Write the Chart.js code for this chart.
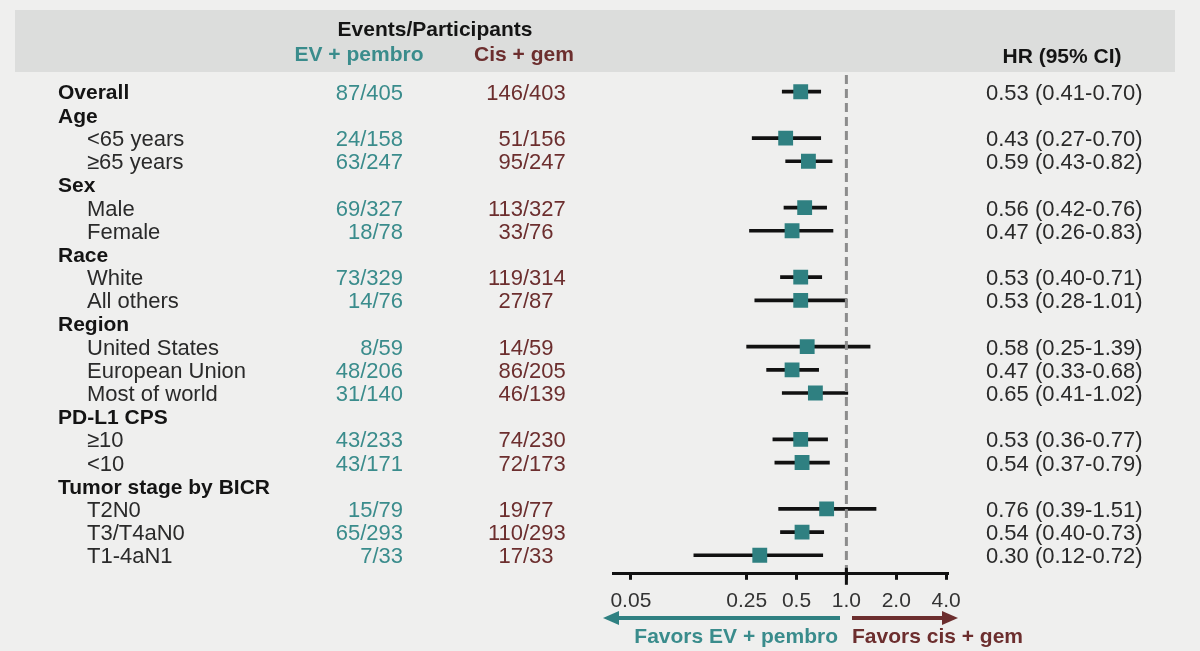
<!DOCTYPE html>
<html>
<head>
<meta charset="utf-8">
<script src="https://cdn.jsdelivr.net/npm/chart.js@4"></script>
<style>
html,body{margin:0;padding:0;background:#efefee;}
#wrap{width:1200px;height:651px;}
</style>
</head>
<body>
<div id="wrap"><canvas id="forest" width="1200" height="651"></canvas></div>
<script>
/* ── DATA ── */
var rowLabels=['Overall','Age','<65 years','\u226565 years','Sex','Male','Female','Race','White','All others','Region','United States','European Union','Most of world','PD-L1 CPS','\u226510','<10','Tumor stage by BICR','T2N0','T3/T4aN0','T1-4aN1'];
var rowBold=[1,1,0,0,1,0,0,1,0,0,1,0,0,0,1,0,0,1,0,0,0];
var evEvents=['87/405',null,'24/158','63/247',null,'69/327','18/78',null,'73/329','14/76',null,'8/59','48/206','31/140',null,'43/233','43/171',null,'15/79','65/293','7/33'];
var cisEvents=['146/403',null,'51/156','95/247',null,'113/327','33/76',null,'119/314','27/87',null,'14/59','86/205','46/139',null,'74/230','72/173',null,'19/77','110/293','17/33'];
var hr=[0.53,null,0.43,0.59,null,0.56,0.47,null,0.53,0.53,null,0.58,0.47,0.65,null,0.53,0.54,null,0.76,0.54,0.30];
var ciLo=[0.41,null,0.27,0.43,null,0.42,0.26,null,0.40,0.28,null,0.25,0.33,0.41,null,0.36,0.37,null,0.39,0.40,0.12];
var ciHi=[0.70,null,0.70,0.82,null,0.76,0.83,null,0.71,1.01,null,1.39,0.68,1.02,null,0.77,0.79,null,1.51,0.73,0.72];
var tickVals=[0.05,0.25,0.5,1,2,4];
var tickLabels=['0.05','0.25','0.5','1.0','2.0','4.0'];

var TEAL='#2f8081',TEAL_TXT='#3a8c8c',BROWN='#6c2e2e',INK='#141414',GREY_TXT='#2a2a2a';
var FONT='"Liberation Sans", Arial, sans-serif';

var ciData=[],hrData=[];
hr.forEach(function(v,i){
  if(v==null)return;
  ciData.push({x:[ciLo[i],ciHi[i]],y:i});
  hrData.push({x:v,y:i});
});

/* ── TEXT / DECOR PLUGIN ── */
var tablePlugin={
  id:'tablePlugin',
  beforeDraw:function(c){
    var ctx=c.ctx;
    ctx.save();
    ctx.fillStyle='#dcdddc';
    ctx.fillRect(15,10,1160,62);
    ctx.restore();
  },
  afterDraw:function(c){
    var ctx=c.ctx,xs=c.scales.x,ys=c.scales.y,ca=c.chartArea;
    ctx.save();
    // headers
    ctx.textBaseline='middle';ctx.textAlign='center';
    ctx.font='bold 21px '+FONT;
    ctx.fillStyle=INK;ctx.fillText('Events/Participants',435,30);
    ctx.fillStyle=TEAL_TXT;ctx.fillText('EV + pembro',359,55);
    ctx.fillStyle=BROWN;ctx.fillText('Cis + gem',524,55);
    ctx.fillStyle=INK;ctx.fillText('HR (95% CI)',1062,57);
    // rows
    rowLabels.forEach(function(l,i){
      var y=ys.getPixelForValue(i)+2;
      ctx.textAlign='left';
      if(rowBold[i]){ctx.font='bold 21px '+FONT;ctx.fillStyle=INK;ctx.fillText(l,58,y);}
      else{ctx.font='22px '+FONT;ctx.fillStyle=GREY_TXT;ctx.fillText(l,87,y);}
      ctx.font='22px '+FONT;
      if(evEvents[i]){ctx.fillStyle=TEAL_TXT;ctx.textAlign='right';ctx.fillText(evEvents[i],403,y);}
      if(cisEvents[i]){
        var p=cisEvents[i].split('/');
        ctx.fillStyle=BROWN;
        ctx.textAlign='right';ctx.fillText(p[0],523,y);
        ctx.textAlign='left';ctx.fillText('/'+p[1],523,y);
      }
      if(hr[i]!=null){
        ctx.fillStyle=GREY_TXT;ctx.textAlign='left';
        ctx.fillText(hr[i].toFixed(2)+' ('+ciLo[i].toFixed(2)+'-'+ciHi[i].toFixed(2)+')',986,y);
      }
    });
    // reference line at HR = 1
    var x1=xs.getPixelForValue(1);
    ctx.strokeStyle='#8c8c8c';ctx.lineWidth=3;ctx.setLineDash([9,5]);
    ctx.beginPath();ctx.moveTo(x1,ca.top+3);ctx.lineTo(x1,ca.bottom-2);ctx.stroke();
    ctx.setLineDash([]);
    ctx.strokeStyle='#111';ctx.lineWidth=3;
    ctx.beginPath();ctx.moveTo(x1,ca.bottom-6);ctx.lineTo(x1,ca.bottom+11);ctx.stroke();
    // arrows
    function arrow(xa,xb,y,col){
      var dir=xb>xa?1:-1;
      ctx.strokeStyle=col;ctx.fillStyle=col;ctx.lineWidth=4;
      ctx.beginPath();ctx.moveTo(xa,y);ctx.lineTo(xb-dir*12,y);ctx.stroke();
      ctx.beginPath();ctx.moveTo(xb,y);ctx.lineTo(xb-dir*16,y-7);ctx.lineTo(xb-dir*16,y+7);ctx.closePath();ctx.fill();
    }
    arrow(840,603,618,TEAL);
    arrow(852,958,618,BROWN);
    ctx.font='bold 21px '+FONT;ctx.textBaseline='middle';
    ctx.fillStyle=TEAL_TXT;ctx.textAlign='right';ctx.fillText('Favors EV + pembro',838,637);
    ctx.fillStyle=BROWN;ctx.textAlign='left';ctx.fillText('Favors cis + gem',852,637);
    ctx.restore();
  }
};

new Chart(document.getElementById('forest').getContext('2d'),{
  type:'bar',
  data:{
    datasets:[
      {type:'scatter',label:'HR',data:hrData,pointStyle:'rect',pointRadius:10.5,pointHoverRadius:10.5,backgroundColor:TEAL,borderColor:TEAL,borderWidth:0,order:0},
      {type:'bar',label:'95% CI',data:ciData,backgroundColor:'#111',barThickness:3,grouped:false,borderWidth:0,borderSkipped:false,order:1}
    ]
  },
  options:{
    indexAxis:'y',
    responsive:false,animation:false,
    layout:{padding:{left:613,right:253,top:72,bottom:28}},
    plugins:{legend:{display:false},tooltip:{enabled:false}},
    scales:{
      x:{type:'logarithmic',min:0.039,max:4.05,offset:false,
        afterBuildTicks:function(s){s.ticks=tickVals.map(function(v){return{value:v};});},
        ticks:{autoSkip:false,maxRotation:0,padding:9,color:'#333',font:{family:FONT,size:21},
          callback:function(v){var k=tickVals.indexOf(v);return k<0?'':tickLabels[k];}},
        grid:{display:true,drawOnChartArea:false,drawTicks:true,tickLength:6,color:'#111',lineWidth:3,offset:false},
        border:{display:true,color:'#111',width:3}
      },
      y:{type:'linear',min:-0.85,max:20.8,reverse:true,display:false,offset:false,grid:{offset:false}}
    }
  },
  plugins:[tablePlugin]
});
</script>
</body>
</html>
